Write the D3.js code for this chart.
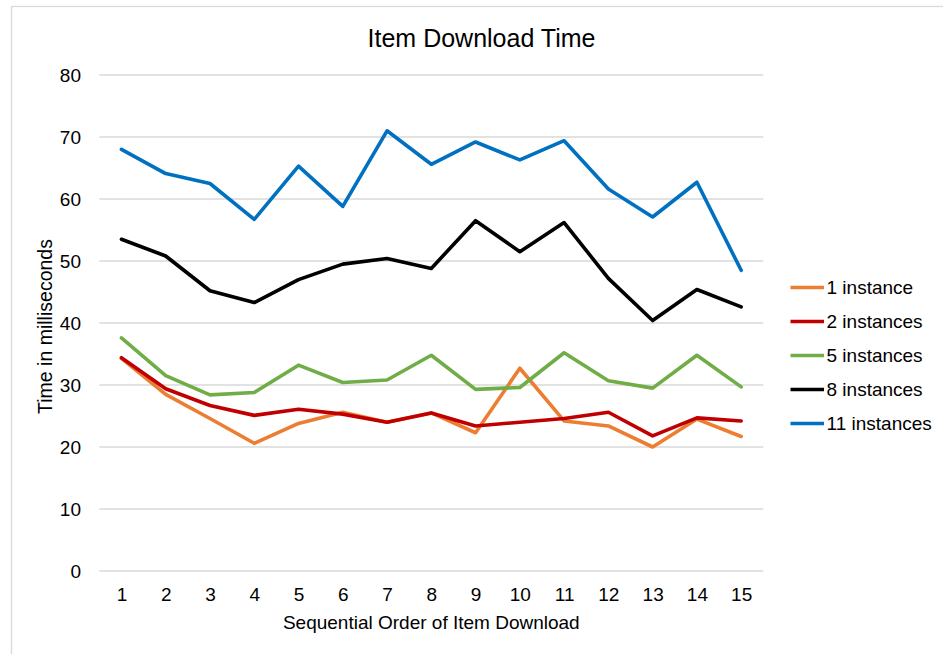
<!DOCTYPE html>
<html>
<head>
<meta charset="utf-8">
<script src="https://cdn.jsdelivr.net/npm/d3@7"></script>
<style>
  html, body { margin: 0; padding: 0; background: #fff; }
  svg { display: block; font-family: "Liberation Sans", Arial, sans-serif; }
</style>
</head>
<body>
<svg id="chart" width="943" height="654"></svg>
<script>
// Download order of items (x axis categories)
const order = [1, 2, 3, 4, 5, 6, 7, 8, 9, 10, 11, 12, 13, 14, 15];

// Series names and colours
const seriesNames = ["1 instance", "2 instances", "5 instances", "8 instances", "11 instances"];
const seriesColors = ["#ED7D31", "#C00000", "#70AD47", "#000000", "#0070C0"];

// Download time (ms) per item, one array per instance count
const oneInstance    = [34.3, 28.5, 24.6, 20.6, 23.8, 25.6, 24.0, 25.5, 22.3, 32.7, 24.2, 23.4, 20.0, 24.5, 21.7];
const twoInstances   = [34.4, 29.4, 26.7, 25.1, 26.1, 25.3, 24.0, 25.5, 23.4, 24.0, 24.6, 25.6, 21.8, 24.7, 24.2];
const fiveInstances  = [37.6, 31.5, 28.4, 28.8, 33.2, 30.4, 30.8, 34.8, 29.3, 29.6, 35.2, 30.7, 29.5, 34.8, 29.7];
const eightInstances = [53.5, 50.8, 45.2, 43.3, 47.0, 49.5, 50.4, 48.8, 56.5, 51.5, 56.2, 47.2, 40.4, 45.4, 42.6];
const elevenInstances= [68.0, 64.1, 62.5, 56.7, 65.3, 58.8, 71.0, 65.6, 69.2, 66.3, 69.4, 61.6, 57.1, 62.7, 48.5];

// Y axis ticks
const yTicks = [0, 10, 20, 30, 40, 50, 60, 70, 80];

const seriesValues = [oneInstance, twoInstances, fiveInstances, eightInstances, elevenInstances];
const series = seriesNames.map((name, i) => ({
  name, color: seriesColors[i],
  values: seriesValues[i].map((v, j) => ({ x: order[j], y: v }))
}));

const svg = d3.select("#chart");

// Outer chart frame
svg.append("rect")
  .attr("x", 11.5).attr("y", 6.5)
  .attr("width", 960).attr("height", 680)
  .attr("fill", "#fff")
  .attr("stroke", "#d9d9d9")
  .attr("stroke-width", 1.3);

const plot = { left: 99.3, right: 763.3, top: 75, bottom: 571 };

const x = d3.scalePoint()
  .domain(order)
  .range([plot.left, plot.right])
  .padding(0.5);

const y = d3.scaleLinear()
  .domain([0, 80])
  .range([plot.bottom, plot.top]);

// Horizontal gridlines
svg.append("g")
  .selectAll("line")
  .data(yTicks)
  .join("line")
  .attr("x1", plot.left).attr("x2", plot.right)
  .attr("y1", d => y(d)).attr("y2", d => y(d))
  .attr("stroke", "#d9d9d9")
  .attr("stroke-width", 1.3);

// Y axis tick labels
const yAxis = d3.axisLeft(y).tickValues(yTicks).tickSize(0).tickPadding(0);
const gy = svg.append("g")
  .attr("transform", `translate(${81},0)`)
  .call(yAxis);
gy.select(".domain").remove();
gy.selectAll("text")
  .attr("font-size", 19)
  .attr("font-family", "Liberation Sans, Arial, sans-serif")
  .attr("fill", "#000");

// X axis tick labels
const xAxis = d3.axisBottom(x).tickSize(0).tickPadding(0);
const gx = svg.append("g")
  .attr("transform", `translate(0,${plot.bottom})`)
  .call(xAxis);
gx.select(".domain").remove();
gx.selectAll("text")
  .attr("dy", null)
  .attr("y", 30)
  .attr("font-size", 19)
  .attr("font-family", "Liberation Sans, Arial, sans-serif")
  .attr("fill", "#000");

// Series lines
const line = d3.line().x(d => x(d.x)).y(d => y(d.y));
svg.append("g")
  .selectAll("path")
  .data(series)
  .join("path")
  .attr("d", d => line(d.values))
  .attr("fill", "none")
  .attr("stroke", d => d.color)
  .attr("stroke-width", 3.6)
  .attr("stroke-linejoin", "round")
  .attr("stroke-linecap", "round");

// Title
svg.append("text")
  .attr("x", 481.5).attr("y", 46.5)
  .attr("text-anchor", "middle")
  .attr("font-size", 25)
  .attr("fill", "#000")
  .text("Item Download Time");

// Axis titles
svg.append("text")
  .attr("x", (plot.left + plot.right) / 2).attr("y", 628.5)
  .attr("text-anchor", "middle")
  .attr("font-size", 19)
  .attr("fill", "#000")
  .text("Sequential Order of Item Download");

svg.append("text")
  .attr("transform", `translate(51.5,${(plot.top + plot.bottom) / 2 + 3.5}) rotate(-90)`)
  .attr("text-anchor", "middle")
  .attr("font-size", 19.5)
  .attr("fill", "#000")
  .text("Time in milliseconds");

// Legend
const legend = svg.append("g")
  .selectAll("g")
  .data(series)
  .join("g")
  .attr("transform", (d, i) => `translate(790.5,${287.5 + i * 34})`);
legend.append("line")
  .attr("x1", 0).attr("x2", 33.5)
  .attr("y1", 0).attr("y2", 0)
  .attr("stroke", d => d.color)
  .attr("stroke-width", 3.4);
legend.append("text")
  .attr("x", 36).attr("y", 0)
  .attr("dy", "0.35em")
  .attr("font-size", 19)
  .attr("fill", "#000")
  .text(d => d.name);
</script>
</body>
</html>
